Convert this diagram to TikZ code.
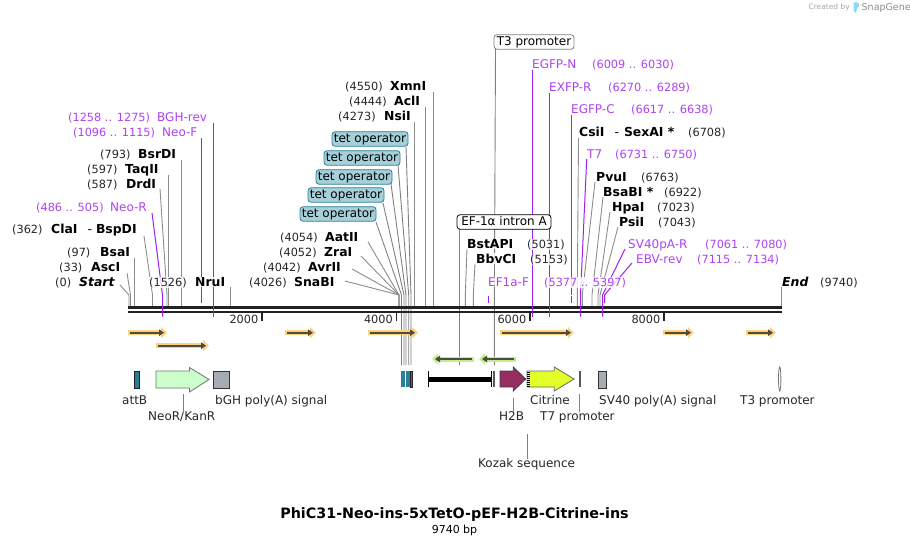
\documentclass[tikz,border=0pt]{standalone}
\usepackage{fontspec}
\setmainfont{DejaVu Sans}
\usepackage{xcolor}
\definecolor{primerpurple}{RGB}{160, 32, 240}
\definecolor{siteline}{RGB}{140, 140, 140}
\definecolor{darkbar}{RGB}{34, 34, 34}
\definecolor{tetteal}{RGB}{42, 125, 155}
\definecolor{tetfill}{RGB}{165, 207, 217}
\definecolor{bandorange}{RGB}{253, 208, 130}
\definecolor{bandgreen}{RGB}{190, 240, 140}
\definecolor{banddark}{RGB}{80, 76, 60}
\definecolor{polygray}{RGB}{166, 172, 181}
\definecolor{neogreen}{RGB}{204, 255, 204}
\definecolor{hbmagenta}{RGB}{150, 44, 95}
\definecolor{citrineyellow}{RGB}{226, 255, 42}
\usetikzlibrary{arrows.meta, calc}
\tikzset{
    sitename/.style={anchor=base west, yshift=-4.4pt, inner xsep=0pt, inner ysep=0.5pt, fill=white, fill opacity=0.8, text opacity=1, font=\fontsize{12.4}{14}\selectfont\bfseries},
    sitepos/.style={anchor=base west, yshift=-4.4pt, inner xsep=0pt, inner ysep=0.5pt, fill=white, fill opacity=0.8, text opacity=1, font=\fontsize{11.3}{14}\selectfont, text=black!85},
    primername/.style={sitepos, font=\fontsize{12}{14}\selectfont, text=primerpurple!85!white},
    primerpos/.style={sitepos, text=primerpurple!85!white},
    featbox/.style={rounded corners=3pt, inner xsep=0pt, inner ysep=0pt, minimum height=14.5pt, text height=9pt, text depth=2.5pt, font=\fontsize{12}{14}\selectfont, line width=0.8pt},
    featname/.style={inner sep=0pt, font=\fontsize{12}{14}\selectfont, text=black!85, anchor=base west, yshift=-4.4pt},
    siteln/.style={siteline, line width=0.9pt},
    primerln/.style={primerpurple, line width=1pt},
    featln/.style={black!50, line width=0.9pt},
    featedge/.style={line width=0.8pt, line join=miter},
}

\begin{document}
\begin{tikzpicture}[x=1pt, y=-1pt, >=Stealth]
    \useasboundingbox (0,0) rectangle (910,545);

    % restriction site lines
    \foreach \n/\tx/\ty/\bx in {
        start/120/285/129, asc/127/273/130.5, bsa/134.5/258/134.5, cla/144/236/152.5,
        drd/160/189/167, taq/168.5/175/168.5, bsr/181.5/160/181.5, nru/230.3/287/230.3,
        sna/345/281/399, avr/352/269/399, zra/361/256/399, aat/368/242/399,
        nsi/414.5/122/414.5, acl/425.5/107/425.5, xmn/433.3/92/433.3,
        bst/467/249/465.3, bbv/475/264/473.3, csi/578.5/138/577.3, pvu/595/182/582.3,
        bsab/603/197/592, hpa/610/212/598, psi/618/227/600, stop/781.7/287/781.7}
    {
        \coordinate (\n top) at (\tx,\ty);
        \coordinate (\n knee) at (\bx,295);
        \coordinate (\n foot) at (\bx,306);
        \draw[siteln] (\n top) -- (\n knee) -- (\n foot);
    }

    % lines of the features that run down through the backbone
    \foreach \n/\tx/\ty/\bx in {tetA/406/147/411, tetB/398/165/408.7, tetC/391/184/406, tetD/383/203/404, tetE/376/222/401.5}
    {
        \coordinate (\n top) at (\tx,\ty);
        \coordinate (\n knee) at (\bx,295);
        \coordinate (\n foot) at (\bx,365);
        \draw[featln] (\n top) -- (\n knee) -- (\n foot);
    }
    \coordinate (tthreetop) at (495.5,49);
    \coordinate (tthreeknee) at (494.4,295);
    \coordinate (tthreefoot) at (494.4,365);
    \coordinate (introntop) at (459.4,229);
    \coordinate (intronfoot) at (459.4,365);
    \draw[featln] (tthreetop) -- (tthreeknee) -- (tthreefoot);
    \draw[featln] (introntop) -- (intronfoot);

    % backbone
    \coordinate (leftA) at (128,307.5);
    \coordinate (rightA) at (782,307.5);
    \coordinate (leftB) at (128,311.8);
    \coordinate (rightB) at (782,311.8);
    \draw[darkbar, line width=3pt] (leftA) -- (rightA);
    \draw[darkbar, line width=2.6pt] (leftB) -- (rightB);
    \foreach \x/\t in {262/2000, 396.5/4000, 530/6000, 664/8000}
    {
        \draw[darkbar, line width=1.6pt] (\x,313) -- (\x,320.5);
        \node[inner sep=0pt, anchor=base east, font=\fontsize{11.3}{14}\selectfont, text=black!85] (tick\t) at (\x-3.5,323.5) {\t};
    }

    % primer lines
    \foreach \n/\tx/\ty/\bx/\be in {
        bghrev/213.5/123/213.5/316.5, neof/201.5/138/201.5/303, neor/152/213/162.5/316.5,
        egfpn/532.5/70/532.5/316.5, exfpr/549.3/93/549.3/316.5, egfpc/571.3/115/571.3/285,
        tseven/586.7/159/580.5/316.5, svforty/625/249/602.5/316.5, ebv/632/263/604.5/303}
    {
        \coordinate (\n top) at (\tx,\ty);
        \coordinate (\n knee) at (\bx,295);
        \coordinate (\n foot) at (\bx,\be);
        \draw[primerln] (\n top) -- (\n knee) -- (\n foot);
    }
    \coordinate (egfpctail) at (571.3,296);
    \coordinate (egfpcfoot) at (571.3,303.5);
    \coordinate (efonetop) at (488.5,296);
    \coordinate (efonefoot) at (488.5,303.5);
    \draw[primerln] (efonetop) -- (efonefoot);
    \draw[primerln] (egfpctail) -- (egfpcfoot);

    % site labels
    \foreach \n/\nm/\nx/\p/\px/\y in {
        start/{\textit{Start}}/79/(0)/55/282,
        asc/AscI/91/(33)/59/267,
        bsa/BsaI/100/(97)/67/252,
        cla/{ClaI\hspace{10pt}{\mdseries -}\hspace{4pt}BspDI}/51/(362)/12/229,
        drd/DrdI/126/(587)/87/184,
        taq/TaqII/125/(597)/87/169,
        bsr/BsrDI/138/(793)/100/154,
        nru/NruI/195/(1526)/149/282,
        sna/SnaBI/294/(4026)/249/282,
        avr/AvrII/308/(4042)/263/267,
        zra/ZraI/324/(4052)/279/252,
        aat/AatII/325/(4054)/280/237,
        nsi/NsiI/384/(4273)/338/116,
        acl/AclI/394/(4444)/349/101,
        xmn/XmnI/390/(4550)/345/86,
        bst/BstAPI/467/(5031)/527/244,
        bbv/BbvCI/476/(5153)/530/259,
        csi/{CsiI\hspace{10pt}{\mdseries -}\hspace{5pt}SexAI *}/579/(6708)/688/132,
        pvu/PvuI/596/(6763)/641/177,
        bsab/{BsaBI *}/603/(6922)/664/192,
        hpa/HpaI/612/(7023)/657/207,
        psi/PsiI/619/(7043)/658/222,
        stop/{\textit{End}}/782/(9740)/820/282}
    {
        \node[sitepos] (\n pos) at (\px,\y) {\p};
        \node[sitename] (\n name) at (\nx,\y) {\nm};
    }

    % primer labels
    \foreach \n/\nm/\nx/\p/\px/\y in {
        bghrev/BGH-rev/157/(1258 .. 1275)/68/117,
        neof/Neo-F/162/(1096 .. 1115)/73/132,
        neor/Neo-R/110/(486 .. 505)/36/207,
        egfpn/EGFP-N/532/(6009 .. 6030)/592/64,
        exfpr/EXFP-R/549/(6270 .. 6289)/608/87,
        egfpc/EGFP-C/571/(6617 .. 6638)/631/109,
        tseven/T7/587/(6731 .. 6750)/615/154,
        svforty/SV40pA-R/628/(7061 .. 7080)/705/244,
        ebv/EBV-rev/636/(7115 .. 7134)/697/259,
        efone/EF1a-F/488/(5377 .. 5397)/544/282}
    {
        \node[primerpos] (\n pos) at (\px,\y) {\p};
        \node[primername] (\n name) at (\nx,\y) {\nm};
    }

    % feature boxes on top of the lines
    \foreach \n/\x/\y in {tetA/370/139, tetB/362/158, tetC/354/177, tetD/346/195, tetE/338/214}
        \node[featbox, draw=tetteal, fill=tetfill, minimum width=76pt] (\n box) at (\x,\y) {tet operator};
    \node[featbox, draw=black!50, fill=white, minimum width=80pt] (t3box) at (534,42) {T3 promoter};
    \node[featbox, draw=black, fill=white, minimum width=94pt] (intronbox) at (504,222) {EF-1α intron A};

    % primer binding arrows
    \foreach \xa/\xb/\y in {128/167/332.7, 156/209/345.7, 285/316/332.7, 368/418/332.7, 500/574/332.7, 663/694/332.7, 746/776/332.7}
    {
        \draw[bandorange, line width=5pt, -{Triangle[length=6pt,width=11pt]}] (\xa,\y) -- (\xb,\y);
        \draw[banddark, line width=2pt, -{Triangle[length=5pt,width=6.5pt]}] (\xa+2,\y) -- (\xb-3,\y);
    }
    \foreach \xa/\xb in {474/432, 516/479}
    {
        \draw[bandgreen, line width=5pt, -{Triangle[length=6pt,width=11pt]}] (\xa,359) -- (\xb,359);
        \draw[banddark, line width=2pt, -{Triangle[length=5pt,width=6.5pt]}] (\xa-2,359) -- (\xb+3,359);
    }

    % features
    \draw[featedge, fill=tetteal, draw=darkbar] (134.3,371) rectangle (139.7,388);
    \draw[featedge, fill=neogreen, draw=black!55] (156,371) -- (189.5,371) -- (189.5,367.5) -- (209,379.5) -- (189.5,392) -- (189.5,388) -- (156,388) -- cycle;
    \draw[featedge, fill=polygray, draw=black!80] (213,371) rectangle (229,388);
    \fill[tetteal] (401,371) rectangle (405.3,387);
    \fill[tetteal] (406,371) rectangle (410,387);
    \draw[featedge, fill=tetteal, draw=darkbar] (410.5,371) rectangle (412.7,387);
    \fill[black] (428.3,377) rectangle (491.3,382);
    \draw[black, line width=0.9pt] (428.3,371) -- (428.3,387);
    \draw[black, line width=0.9pt] (491.3,371) -- (491.3,387);
    \fill[black!65] (492.7,371) rectangle (495,387);
    \draw[featedge, fill=hbmagenta, draw=black!75] (500,371) -- (513.3,371) -- (513.3,367) -- (525.7,379) -- (513.3,391) -- (513.3,387) -- (500,387) -- cycle;
    \draw[featedge, fill=citrineyellow, draw=black!60] (527,371) -- (554.3,371) -- (554.3,367) -- (574,379) -- (554.3,391) -- (554.3,387) -- (527,387) -- cycle;
    \draw[black, line width=2.6pt, dash pattern=on 1pt off 1pt] (528.5,371.5) -- (528.5,387);
    \fill[black!65] (579,371) rectangle (581,387);
    \draw[featedge, fill=polygray, draw=black!80] (598.3,371) rectangle (606.7,388);
    \draw[black!55, line width=0.8pt, fill=white] (779.7,379) ellipse (1.2 and 12);

    % feature labels
    \node[featname] (attB) at (122,400.5) {attB};
    \node[featname] (neoR) at (148,416.5) {NeoR/KanR};
    \node[featname] (bgh) at (215,400.5) {bGH poly(A) signal};
    \node[featname] (htwob) at (499,416.5) {H2B};
    \node[featname] (citrine) at (530,400.5) {Citrine};
    \node[featname] (tsevenp) at (540,416.5) {T7 promoter};
    \node[featname] (kozak) at (478,463.5) {Kozak sequence};
    \node[featname] (svpoly) at (599,400.5) {SV40 poly(A) signal};
    \node[featname] (tthreep) at (740,400.5) {T3 promoter};

    \coordinate (neoRtick) at (183.5,394);
    \coordinate (htwobtick) at (513.3,398);
    \coordinate (tsevenptick) at (579.3,394);
    \coordinate (kozaktick) at (527.3,434);
    \draw[featln] (neoRtick) -- (neoR.north -| neoRtick);
    \draw[featln] (htwobtick) -- (htwob.north -| htwobtick);
    \draw[featln] (tsevenptick) -- (tsevenp.north -| tsevenptick);
    \draw[featln] (kozaktick) -- (kozak.north -| kozaktick);

    % title
    \node[inner sep=0pt, anchor=base, font=\fontsize{14.3}{16}\selectfont\bfseries] (title) at (454.5,518.5) {PhiC31-Neo-ins-5xTetO-pEF-H2B-Citrine-ins};
    \node[inner sep=0pt, anchor=base, font=\fontsize{11}{13}\selectfont] (length) at (454.5,533) {9740 bp};

    % credit
    \node[inner sep=0pt, anchor=east, font=\fontsize{7.5}{9}\selectfont, text=black!35] (created) at (850,7.5) {Created by};
    \fill[cyan!45] (853.5,2.5) -- (857,2.5) .. controls (860,3.5) and (860,7) .. (857,8) -- (856,13) -- (853.5,11) -- cycle;
    \node[inner sep=0pt, anchor=west, font=\fontsize{9.5}{11}\selectfont, text=black!45] (snapgene) at (861.5,7.5) {SnapGene};
\end{tikzpicture}
\end{document}
